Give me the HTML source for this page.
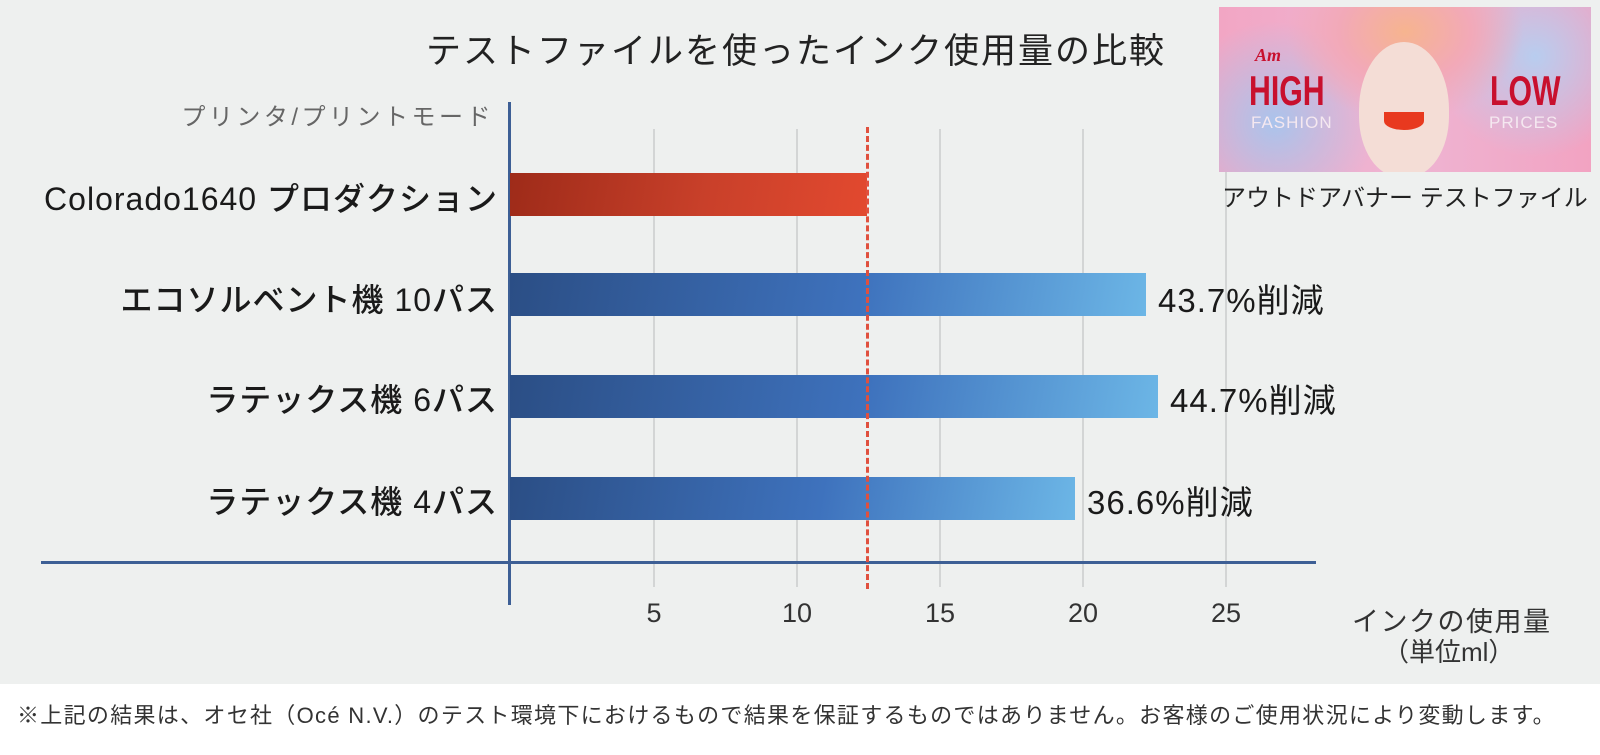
<!DOCTYPE html>
<html><head><meta charset="utf-8"><style>
*{margin:0;padding:0}
body{width:1600px;height:755px;background:#eef0ef;position:relative;overflow:hidden;font-family:"Liberation Sans","Noto Sans CJK JP",sans-serif;color:#1a1a1a}
.a{position:absolute;white-space:nowrap}
.cat{right:1102px;font-size:32px;font-weight:500;letter-spacing:1px;transform:translateY(-50%)}
.pct{font-size:33px;letter-spacing:1px;transform:translateY(-50%)}
.tk{font-size:27px;color:#333;transform:translateX(-50%);top:598px}
.bar{position:absolute;left:510px;height:43px;background:linear-gradient(100deg,#2b4e85,#3e72bd 55%,#6cb6e6)}
.grid{position:absolute;top:129px;width:2px;height:458px;background:#d3d5d5}
</style></head><body>
<div class="a" style="left:0;right:0;top:684px;height:71px;background:#fff"></div>
<div class="a" style="left:17px;top:698px;font-size:22px;color:#333;letter-spacing:1.3px">※上記の結果は、オセ社（Océ N.V.）のテスト環境下におけるもので結果を保証するものではありません。お客様のご使用状況により変動します。</div>
<div class="a" style="left:426px;top:23px;font-size:35px;letter-spacing:2px;color:#222">テストファイルを使ったインク使用量の比較</div>
<div class="a" style="right:1106px;top:97px;font-size:24px;letter-spacing:3.5px;color:#666">プリンタ/プリントモード</div>
<div class="grid" style="left:653px"></div>
<div class="grid" style="left:796px"></div>
<div class="grid" style="left:939px"></div>
<div class="grid" style="left:1082px"></div>
<div class="grid" style="left:1225px"></div>
<div class="a" style="left:41px;top:561px;width:1275px;height:3px;background:#3d5f95"></div>
<div class="a" style="left:508px;top:102px;width:3px;height:503px;background:#3d5f95"></div>
<div class="bar" style="top:173px;width:357px;background:linear-gradient(100deg,#9e2b19,#c9402a 55%,#e2492f)"></div>
<div class="bar" style="top:273px;width:636px"></div>
<div class="bar" style="top:375px;width:648px"></div>
<div class="bar" style="top:477px;width:565px"></div>
<div class="a" style="left:866px;top:127px;height:462px;border-left:3px dashed #e0503e"></div>
<div class="a cat" style="top:197px">Colorado1640 プロダクション</div>
<div class="a cat" style="top:298px">エコソルベント機 10パス</div>
<div class="a cat" style="top:398px">ラテックス機 6パス</div>
<div class="a cat" style="top:500px">ラテックス機 4パス</div>
<div class="a pct" style="left:1158px;top:298px">43.7%削減</div>
<div class="a pct" style="left:1170px;top:398px">44.7%削減</div>
<div class="a pct" style="left:1087px;top:500px">36.6%削減</div>
<div class="a tk" style="left:654px">5</div>
<div class="a tk" style="left:797px">10</div>
<div class="a tk" style="left:940px">15</div>
<div class="a tk" style="left:1083px">20</div>
<div class="a tk" style="left:1226px">25</div>
<div class="a" style="left:1352px;top:600px;font-size:27px;letter-spacing:1.5px;color:#333">インクの使用量</div>
<div class="a" style="left:1383px;top:632px;font-size:26px;color:#333">（単位ml）</div>
<div class="a" style="left:1219px;top:7px;width:372px;height:165px;background:radial-gradient(ellipse at 50% 15%,#f6b48f 0,#f2a9b8 25%,transparent 45%),radial-gradient(circle at 15% 70%,#aac4ec 0,transparent 30%),radial-gradient(circle at 85% 30%,#b8cdef 0,transparent 30%),linear-gradient(90deg,#f2a6c4,#eeb5d3 50%,#f2a3c2);overflow:hidden">
<div class="a" style="left:140px;top:35px;width:90px;height:135px;border-radius:50% 50% 45% 45%;background:#f4ddd6"></div>
<div class="a" style="left:165px;top:105px;width:40px;height:18px;border-radius:0 0 50% 50%;background:#e8391f"></div>
<div class="a" style="left:36px;top:38px;font-size:18px;color:#c8102e;font-style:italic;font-weight:bold;font-family:'Liberation Serif',serif">Am</div>
<div class="a" style="left:30px;top:60px;font-size:42px;color:#c8102e;font-weight:bold;transform:scaleX(.72);transform-origin:left">HIGH</div>
<div class="a" style="left:271px;top:60px;font-size:42px;color:#c8102e;font-weight:bold;transform:scaleX(.72);transform-origin:left">LOW</div>
<div class="a" style="left:32px;top:106px;font-size:17px;color:#f5e8f0;letter-spacing:1px">FASHION</div>
<div class="a" style="left:270px;top:106px;font-size:17px;color:#f5e8f0;letter-spacing:1px">PRICES</div>
</div>
<div class="a" style="left:1222px;top:178px;font-size:24px;color:#222">アウトドアバナー テストファイル</div>
</body></html>
